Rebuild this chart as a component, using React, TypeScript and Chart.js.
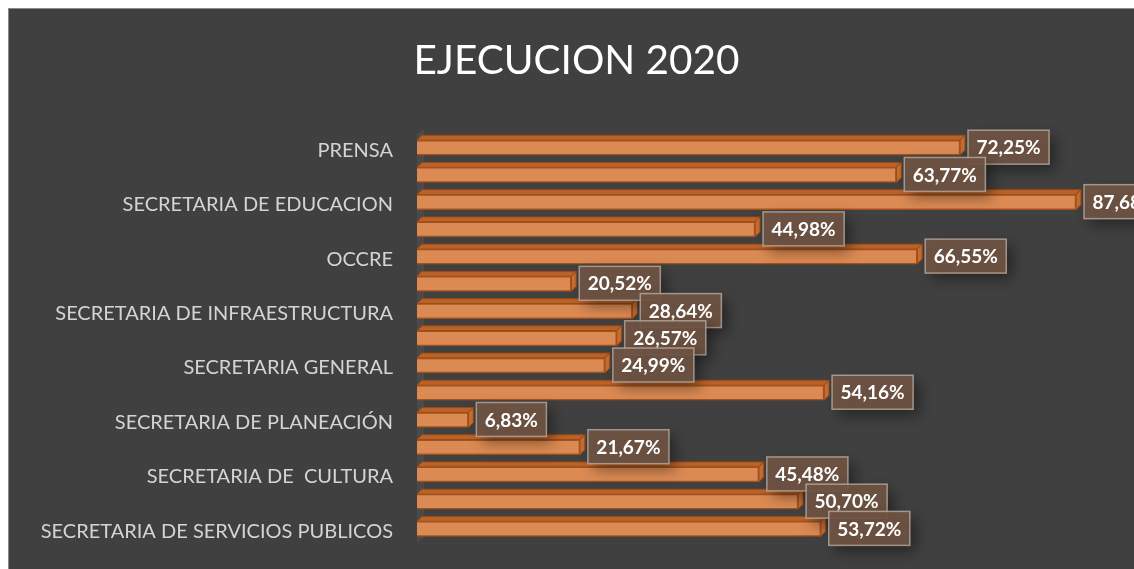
import React, { useEffect, useRef } from "react";
import { Chart, registerables } from "chart.js";

Chart.register(...registerables);

const titleText = "EJECUCION 2020";
const categories = [
  "PRENSA",
  "",
  "SECRETARIA DE EDUCACION",
  "",
  "OCCRE",
  "",
  "SECRETARIA DE INFRAESTRUCTURA",
  "",
  "SECRETARIA GENERAL",
  "",
  "SECRETARIA DE PLANEACIÓN",
  "",
  "SECRETARIA DE  CULTURA",
  "",
  "SECRETARIA DE SERVICIOS PUBLICOS",
];
const values = [72.25, 63.77, 87.68, 44.98, 66.55, 20.52, 28.64, 26.57, 24.99, 54.16, 6.83, 21.67, 45.48, 50.7, 53.72];

const fmt = (v: number) => v.toFixed(2).replace(".", ",") + "%";

const DEPTH = 5;
const SHIFT = -2.5;

const bar3d = {
  id: "bar3d",
  beforeDatasetsDraw(chart: any) {
    const ctx = chart.ctx;
    const area = chart.chartArea;
    ctx.save();
    ctx.translate(0, SHIFT);
    ctx.fillStyle = "#4a4a4a";
    ctx.beginPath();
    ctx.moveTo(area.left, area.bottom);
    ctx.lineTo(area.left, area.top);
    ctx.lineTo(area.left + DEPTH + 2, area.top - DEPTH);
    ctx.lineTo(area.left + DEPTH + 2, area.bottom - DEPTH);
    ctx.closePath();
    ctx.fill();
    const meta = chart.getDatasetMeta(0);
    meta.data.forEach((el: any) => {
      const p = el.getProps(["x", "y", "base", "height"], true);
      const x0 = p.base;
      const x1 = p.x;
      const y0 = p.y - p.height / 2;
      const y1 = p.y + p.height / 2;
      ctx.lineWidth = 1;
      ctx.strokeStyle = "#9a4812";
      ctx.fillStyle = "#b9632a";
      ctx.beginPath();
      ctx.moveTo(x0, y0);
      ctx.lineTo(x0 + DEPTH, y0 - DEPTH);
      ctx.lineTo(x1 + DEPTH, y0 - DEPTH);
      ctx.lineTo(x1, y0);
      ctx.closePath();
      ctx.fill();
      ctx.stroke();
      ctx.fillStyle = "#c56d33";
      ctx.beginPath();
      ctx.moveTo(x1, y0);
      ctx.lineTo(x1 + DEPTH, y0 - DEPTH);
      ctx.lineTo(x1 + DEPTH, y1 - DEPTH);
      ctx.lineTo(x1, y1);
      ctx.closePath();
      ctx.fill();
      ctx.stroke();
    });
    // keep the translate active while Chart.js draws the bars
  },
  afterDatasetsDraw(chart: any) {
    const ctx = chart.ctx;
    ctx.restore();
    const meta = chart.getDatasetMeta(0);
    const data = chart.data.datasets[0].data as number[];
    ctx.save();
    ctx.font = "bold 19px Lato";
    meta.data.forEach((el: any, i: number) => {
      const p = el.getProps(["x", "y"], true);
      const text = fmt(data[i]);
      const tw = ctx.measureText(text).width;
      const w = tw + 17;
      const h = 34;
      const bx = p.x + DEPTH + 3;
      const by = p.y + SHIFT - 0.5 - h / 2;
      ctx.save();
      ctx.shadowColor = "rgba(0,0,0,0.45)";
      ctx.shadowBlur = 14;
      ctx.shadowOffsetX = 6;
      ctx.shadowOffsetY = 6;
      ctx.fillStyle = "rgba(112,84,66,0.92)";
      ctx.fillRect(bx, by, w, h);
      ctx.restore();
      ctx.strokeStyle = "rgba(190,178,168,0.75)";
      ctx.lineWidth = 1.5;
      ctx.strokeRect(bx, by, w, h);
      ctx.fillStyle = "#ffffff";
      ctx.textAlign = "center";
      ctx.textBaseline = "middle";
      ctx.fillText(text, bx + w / 2, by + h / 2 + 1);
    });
    ctx.restore();
  },
};

export default function App() {
  const ref = useRef<HTMLCanvasElement | null>(null);
  useEffect(() => {
    if (!ref.current) return;
    const chart = new Chart(ref.current, {
      type: "bar",
      data: {
        labels: categories,
        datasets: [
          {
            data: values,
            backgroundColor: "#db8a53",
            borderColor: "#a4521b",
            borderWidth: 1.5,
            barThickness: 15,
          },
        ],
      },
      options: {
        indexAxis: "y",
        responsive: false,
        animation: false,
        layout: { padding: { left: 13, right: 78, top: 0, bottom: 24 } },
        plugins: {
          legend: { display: false },
          tooltip: { enabled: false },
          title: {
            display: true,
            text: titleText,
            color: "#ffffff",
            font: { family: "Lato", size: 40.5, weight: "normal" },
            padding: { top: 28, bottom: 51 },
          },
        },
        scales: {
          x: { display: false, min: 0, max: 95 },
          y: {
            grid: { display: false, drawTicks: false },
            border: { display: false },
            afterFit: (s: any) => {
              s.width = 395;
              s.paddingTop = 0;
              s.paddingBottom = 0;
            },
            ticks: {
              autoSkip: false,
              padding: 24,
              color: "#d4d4d4",
              font: { family: "Lato", size: 20 },
            },
          },
        },
      },
      plugins: [bar3d],
    });
    return () => chart.destroy();
  }, []);
  return (
    <div
      style={{
        position: "fixed",
        left: 8,
        top: 8,
        width: 1126,
        height: 561,
        overflow: "hidden",
        background: "#404040",
        borderTop: "1px solid #8a8a8a",
        borderLeft: "1px solid #8a8a8a",
        boxSizing: "border-box",
      }}
    >
      <canvas ref={ref} width={1200} height={560} style={{ display: "block" }} />
    </div>
  );
}
